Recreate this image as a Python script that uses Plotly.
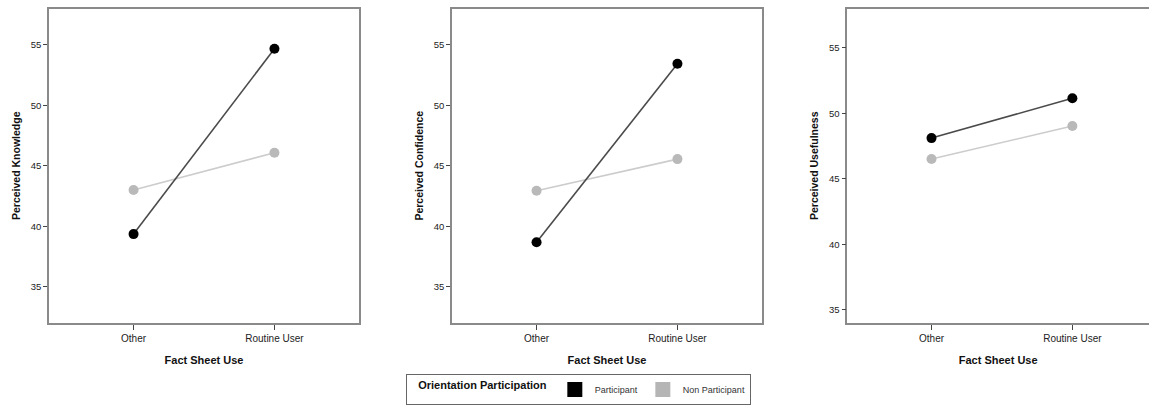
import plotly.graph_objects as go

categories = ["Other", "Routine User"]
y_titles = ["Perceived Knowledge", "Perceived Confidence", "Perceived Usefulness"]
participant = [
    [39.35, 54.67],
    [38.68, 53.43],
    [48.11, 51.15],
]
non_participant = [
    [43.0, 46.08],
    [42.93, 45.55],
    [46.51, 49.03],
]
y_ranges = [[32, 58], [32, 58], [34, 58]]
tick_vals = [35, 40, 45, 50, 55]

W, H = 1149, 405
x_doms = [(49, 359), (452, 762), (847.3, 1149)]
x_ranges = [[-0.6, 1.6], [-0.6, 1.6], [-0.598, 1.544]]
top, bottom = 8.5, 323

font_family = "Liberation Sans, Arial, sans-serif"
fig = go.Figure()

for i in range(3):
    xa = "x" if i == 0 else f"x{i+1}"
    ya = "y" if i == 0 else f"y{i+1}"
    fig.add_trace(go.Scatter(
        x=categories, y=non_participant[i], xaxis=xa, yaxis=ya,
        mode="lines+markers", line=dict(color="#cccccc", width=1.6),
        marker=dict(color="#b9b9b9", size=10), showlegend=False,
        hoverinfo="skip"))
    fig.add_trace(go.Scatter(
        x=categories, y=participant[i], xaxis=xa, yaxis=ya,
        mode="lines+markers", line=dict(color="#4a4a4a", width=1.6),
        marker=dict(color="#000000", size=10), showlegend=False,
        hoverinfo="skip"))

# legend entries
fig.add_trace(go.Scatter(x=[None], y=[None], mode="markers", name="Participant",
                         marker=dict(symbol="square", color="#000000", size=15)))
fig.add_trace(go.Scatter(x=[None], y=[None], mode="markers", name="Non Participant",
                         marker=dict(symbol="square", color="#b5b5b5", size=15)))

layout = dict(
    width=W, height=H,
    margin=dict(l=0, r=0, t=0, b=0, autoexpand=False),
    paper_bgcolor="white", plot_bgcolor="white",
    font=dict(family=font_family, color="#222222", size=10),
    legend=dict(
        orientation="h", x=0.5035, xanchor="center", y=0.0, yanchor="bottom",
        bordercolor="#666666", borderwidth=1, bgcolor="white", valign="middle",
        title=dict(text="&nbsp;&nbsp;&nbsp;<b>Orientation Participation</b>", side="left",
                   font=dict(size=11, color="#111111")),
        font=dict(size=9, color="#333333"), itemsizing="trace",
        tracegroupgap=0,
    ),
)

for i in range(3):
    xk = "xaxis" if i == 0 else f"xaxis{i+1}"
    yk = "yaxis" if i == 0 else f"yaxis{i+1}"
    xa_anchor = "y" if i == 0 else f"y{i+1}"
    ya_anchor = "x" if i == 0 else f"x{i+1}"
    layout[xk] = dict(
        domain=[x_doms[i][0] / W, x_doms[i][1] / W], anchor=xa_anchor,
        type="category", range=x_ranges[i], automargin=False,
        showline=True, linecolor="#8a8a8a", linewidth=1.5, mirror=True,
        ticks="outside", ticklen=5, tickcolor="#444444", showgrid=False,
        zeroline=False, tickfont=dict(size=10, color="#222222"),
        title=dict(text="<b>Fact Sheet Use</b>", font=dict(size=11, color="#111111"), standoff=14),
    )
    layout[yk] = dict(
        domain=[(H - bottom) / H, (H - top) / H], anchor=ya_anchor,
        range=y_ranges[i], tickvals=tick_vals, automargin=False,
        showline=True, linecolor="#8a8a8a", linewidth=1.5, mirror=(i < 2),
        ticks="outside", ticklen=4, tickcolor="#444444", showgrid=False,
        zeroline=False, tickfont=dict(size=9.5, color="#222222"),
        title=dict(text=f"<b>{y_titles[i]}</b>", font=dict(size=10.5, color="#111111"), standoff=8),
    )

fig.update_layout(**layout)
fig.write_html("out.html", config={"displayModeBar": False},
               post_script="document.body.style.margin='0';document.body.style.overflow='hidden';")
